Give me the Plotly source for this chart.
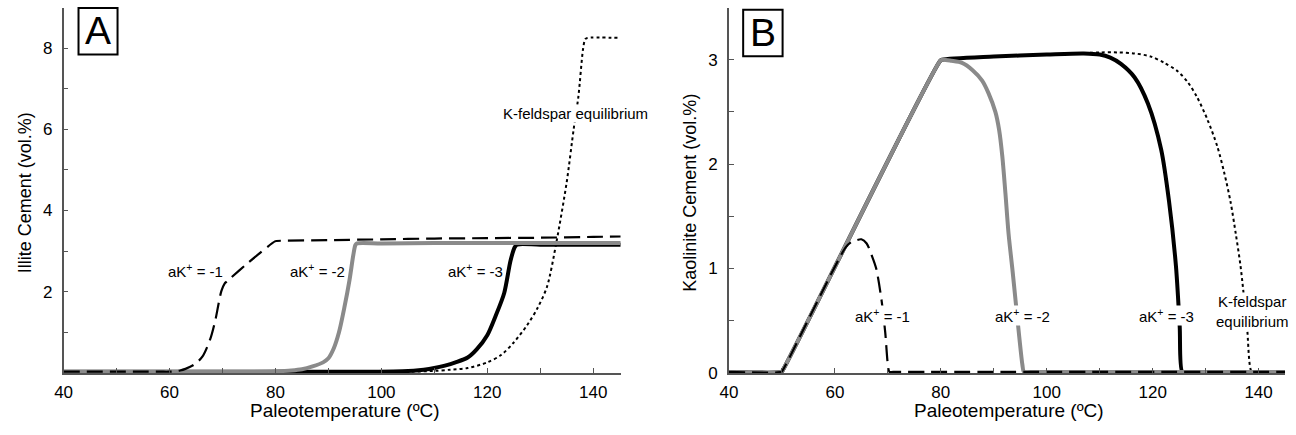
import plotly.graph_objects as go

W, H = 1296, 435

# ---------------- Panel A: illite cement ----------------
a_m1_t = [40, 58, 60, 61, 62, 63, 64.6, 66.2, 67.7, 68.7, 69.3, 69.8, 70.4, 70.8, 75, 79.9, 80.2, 90, 100, 110, 120, 130, 140, 145.2]
a_m1_v = [0.03, 0.03, 0.03, 0.04, 0.06, 0.1, 0.2, 0.4, 0.84, 1.33, 1.73, 2.02, 2.2, 2.25, 2.73, 3.24, 3.25, 3.27, 3.29, 3.31, 3.32, 3.33, 3.35, 3.36]

a_m2_t = [40, 76, 80, 83, 85, 87, 89, 90, 91, 92, 93, 94, 94.7, 95.1, 95.4, 100, 110, 120, 130, 140, 145.2]
a_m2_v = [0.03, 0.03, 0.04, 0.06, 0.09, 0.16, 0.26, 0.36, 0.6, 1.0, 1.6, 2.3, 2.9, 3.15, 3.19, 3.19, 3.2, 3.2, 3.2, 3.2, 3.2]

a_m3_t = [40, 98, 104, 108, 110, 112, 114, 116.3, 118, 120, 121.5, 123.2, 124.4, 125.2, 125.6, 130, 140, 145.2]
a_m3_v = [0.03, 0.03, 0.04, 0.08, 0.12, 0.18, 0.26, 0.38, 0.58, 0.93, 1.38, 1.97, 2.77, 3.1, 3.16, 3.16, 3.16, 3.16]

a_kf_t = [40, 105, 110, 113, 116.3, 120, 122.6, 125, 127.5, 129.5, 131.3, 133.1, 135.0, 136.3, 137.2, 138.1, 138.5, 138.9, 145.2]
a_kf_v = [0.03, 0.03, 0.05, 0.08, 0.12, 0.26, 0.44, 0.75, 1.17, 1.6, 2.13, 3.25, 4.7, 5.99, 6.8, 7.99, 8.22, 8.25, 8.25]

# ---------------- Panel B: kaolinite cement ----------------
b_m1_t = [40, 49.9, 50.1, 62, 63, 64, 65, 66, 67, 67.8, 68.8, 69.5, 70.0, 70.3, 71, 145]
b_m1_v = [0.01, 0.01, 0.02, 1.2, 1.25, 1.27, 1.28, 1.24, 1.12, 1.0, 0.7, 0.39, 0.08, 0.01, 0.01, 0.01]

b_m2_t = [40, 49.9, 50.1, 79.9, 80.3, 82, 84, 86, 87.8, 89, 90.3, 91, 91.6, 92.2, 92.8, 93.5, 94.1, 94.8, 95.4, 95.7, 97, 145]
b_m2_v = [0.01, 0.01, 0.02, 2.99, 3.0, 2.99, 2.97, 2.9, 2.8, 2.68, 2.5, 2.33, 2.08, 1.72, 1.33, 1.0, 0.7, 0.35, 0.08, 0.01, 0.01, 0.01]

b_m3_t = [40, 49.9, 50.1, 79.9, 80.3, 90, 100, 107, 110, 112, 114, 116.6, 119.1, 121.6, 123.1, 124.4, 125.1, 125.6, 126.5, 145]
b_m3_v = [0.01, 0.01, 0.02, 2.99, 3.0, 3.03, 3.05, 3.06, 3.05, 3.02, 2.96, 2.83, 2.58, 2.14, 1.64, 1.02, 0.45, 0.01, 0.01, 0.01]

b_kf_t = [40, 49.9, 50.1, 79.9, 80.3, 90, 100, 105, 110, 113.4, 116.6, 119.7, 122.2, 124.7, 126.7, 128.4, 130.4, 132.2, 133.5, 134.7, 135.7, 136.6, 137.8, 138.7, 139.5, 145]
b_kf_v = [0.01, 0.01, 0.02, 2.99, 3.0, 3.03, 3.05, 3.06, 3.07, 3.07, 3.06, 3.03, 2.97, 2.89, 2.78, 2.64, 2.42, 2.17, 1.92, 1.64, 1.33, 1.02, 0.45, 0.01, 0.01, 0.01]

# curve labels: (text, temperature, value)
a_labels = [("aK<sup>+</sup> = -1", 64.9, 2.52), ("aK<sup>+</sup> = -2", 88.0, 2.52),
            ("aK<sup>+</sup> = -3", 117.8, 2.52), ("K-feldspar equilibrium", 136.6, 6.38)]
b_labels = [("aK<sup>+</sup> = -1", 69.0, 0.553), ("aK<sup>+</sup> = -2", 95.5, 0.553),
            ("aK<sup>+</sup> = -3", 122.7, 0.553), ("K-feldspar<br>equilibrium", 138.8, 0.59)]

x_ticks = [40, 50, 60, 70, 80, 90, 100, 110, 120, 130, 140]
x_text = ["40", "", "60", "", "80", "", "100", "", "120", "", "140"]
a_y_ticks = [0, 1, 2, 3, 4, 5, 6, 7, 8, 9]
a_y_text = ["", "", "2", "", "4", "", "6", "", "8", ""]
b_y_ticks = [0, 0.5, 1, 1.5, 2, 2.5, 3, 3.5]
b_y_text = ["0", "", "1", "", "2", "", "3", ""]

GRAY = "#8a8a8a"
AXC = "#555555"
FONT = "Liberation Sans"

fig = go.Figure()


def add_panel(xa, ya, kf, m3, m2, m1):
    sp = dict(shape="spline", smoothing=0.8)
    fig.add_trace(go.Scatter(x=kf[0], y=kf[1], mode="lines", xaxis=xa, yaxis=ya,
                             line=dict(color="black", width=2, dash="3px,3px", **sp), showlegend=False))
    fig.add_trace(go.Scatter(x=m3[0], y=m3[1], mode="lines", xaxis=xa, yaxis=ya,
                             line=dict(color="black", width=4, **sp), showlegend=False))
    fig.add_trace(go.Scatter(x=m2[0], y=m2[1], mode="lines", xaxis=xa, yaxis=ya,
                             line=dict(color=GRAY, width=4, **sp), showlegend=False))
    fig.add_trace(go.Scatter(x=m1[0], y=m1[1], mode="lines", xaxis=xa, yaxis=ya,
                             line=dict(color="black", width=2.2, dash="16px,7px", **sp), showlegend=False))


add_panel("x", "y", (a_kf_t, a_kf_v), (a_m3_t, a_m3_v), (a_m2_t, a_m2_v), (a_m1_t, a_m1_v))
add_panel("x2", "y2", (b_kf_t, b_kf_v), (b_m3_t, b_m3_v), (b_m2_t, b_m2_v), (b_m1_t, b_m1_v))

lab_font = dict(size=15, color="black", family=FONT)
annotations = []
for txt, xv, yv in a_labels:
    annotations.append(dict(x=xv, y=yv, xref="x", yref="y", text=txt, showarrow=False,
                            xanchor="center", yanchor="middle",
                            bgcolor="white", borderpad=0, font=lab_font))
for txt, xv, yv in b_labels:
    annotations.append(dict(x=xv, y=yv, xref="x2", yref="y2", text=txt, showarrow=False,
                            xanchor="center", yanchor="middle",
                            bgcolor="white", borderpad=0, font=lab_font))


def px(x):
    return x / W


def py(y):
    return 1 - y / H


def paper_text(x, y, text, size, angle=0):
    return dict(x=px(x), y=py(y), xref="paper", yref="paper", text=text, showarrow=False,
                xanchor="center", yanchor="middle", textangle=angle,
                font=dict(size=size, color="black", family=FONT))


annotations += [
    paper_text(338, 420, "Paleotemperature (ºC)", 19),
    paper_text(1007, 420, "Paleotemperature (ºC)", 19),
    paper_text(17, 197, "Illite Cement (vol.%)", 18, -90),
    paper_text(686, 197, "Kaolinite Cement (vol.%)", 18, -90),
    paper_text(89.7, 31.5, "A", 39),
    paper_text(759.2, 33, "B", 39),
]

shapes = [
    dict(type="rect", xref="paper", yref="paper", x0=px(70), x1=px(109.3), y0=py(55.7), y1=py(8.3),
         line=dict(color="black", width=2), fillcolor="white", layer="above"),
    dict(type="rect", xref="paper", yref="paper", x0=px(739.3), x1=px(779), y0=py(57.7), y1=py(10),
         line=dict(color="black", width=2), fillcolor="white", layer="above"),
]

tick_font = dict(size=17, color="black", family=FONT)


def axis(**kw):
    base = dict(showline=True, linecolor=AXC, linewidth=1.5, ticks="inside", ticklen=5,
                tickcolor=AXC, tickwidth=1.2, showgrid=False, zeroline=False,
                tickfont=dict(tick_font), fixedrange=True, tickmode="array")
    base.update(kw)
    return base


y_dom = [py(381.7), py(7.7)]

fig.update_layout(
    width=W, height=H,
    margin=dict(l=0, r=0, t=0, b=0),
    paper_bgcolor="white", plot_bgcolor="white",
    font=dict(family=FONT, size=16, color="black"),
    showlegend=False,
    xaxis=axis(domain=[px(55), px(616)], range=[40, 145.2], anchor="y",
               tickvals=x_ticks, ticktext=x_text, ticklabelstandoff=3),
    yaxis=axis(domain=y_dom, range=[0, 9], anchor="x",
               tickvals=a_y_ticks, ticktext=a_y_text, ticklabelstandoff=6),
    xaxis2=axis(domain=[px(725), px(1285)], range=[40, 145], anchor="y2",
                tickvals=x_ticks, ticktext=x_text, ticklabelstandoff=3),
    yaxis2=axis(domain=y_dom, range=[0, 3.5], anchor="x2",
                tickvals=b_y_ticks, ticktext=b_y_text, ticklabelstandoff=6),
    annotations=annotations,
    shapes=shapes,
)

fig.write_html("out.html")
